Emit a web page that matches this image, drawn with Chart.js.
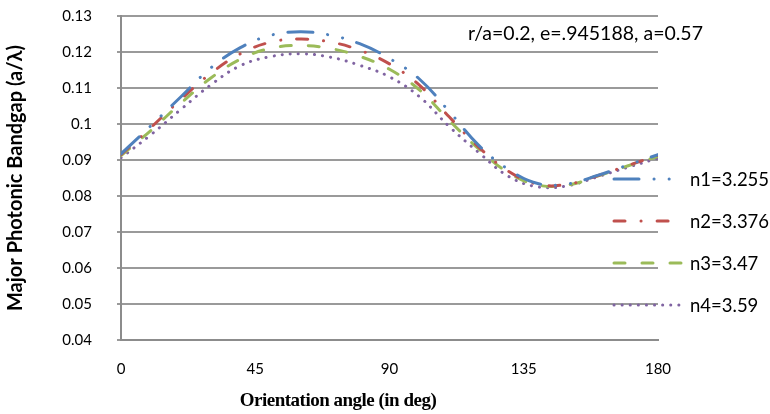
<!DOCTYPE html>
<html>
<head>
<meta charset="utf-8">
<script src="https://cdn.jsdelivr.net/npm/chart.js@4.4.0/dist/chart.umd.min.js"></script>
<style>
  html, body { margin: 0; padding: 0; background: #fff; }
  #wrap { width: 770px; height: 414px; }
</style>
</head>
<body>
<div id="wrap"><canvas id="bandgapChart" width="770" height="414"></canvas></div>
<script>
// orientation angle (deg)
const angles = [0, 10, 20, 30, 40, 50, 60, 70, 80, 90, 100, 110, 120, 130, 140, 150, 160, 170, 180];

// major photonic bandgap (a/lambda) for each refractive index
const n1Values = [0.0917, 0.0995, 0.1075, 0.1155, 0.1212, 0.1246, 0.1256, 0.1247, 0.1223, 0.1182, 0.1125, 0.1035, 0.0940, 0.0873, 0.0834, 0.0834, 0.0858, 0.0886, 0.0915];
const n2Values = [0.0915, 0.0990, 0.1068, 0.1140, 0.1195, 0.1227, 0.1236, 0.1228, 0.1205, 0.1167, 0.1108, 0.1020, 0.0935, 0.0868, 0.0832, 0.0833, 0.0857, 0.0885, 0.0913];
const n3Values = [0.0912, 0.0982, 0.1057, 0.1127, 0.1180, 0.1210, 0.1218, 0.1210, 0.1188, 0.1152, 0.1095, 0.1010, 0.0930, 0.0864, 0.0830, 0.0831, 0.0856, 0.0884, 0.0910];
const n4Values = [0.0906, 0.0970, 0.1040, 0.1108, 0.1162, 0.1187, 0.1195, 0.1186, 0.1163, 0.1131, 0.1076, 0.0993, 0.0920, 0.0854, 0.0825, 0.0829, 0.0854, 0.0880, 0.0905];

const seriesLabels = ['n1=3.255', 'n2=3.376', 'n3=3.47', 'n4=3.59'];
const xTicks = [0, 45, 90, 135, 180];
const yTicks = [0.04, 0.05, 0.06, 0.07, 0.08, 0.09, 0.1, 0.11, 0.12, 0.13];
const noteText = 'r/a=0.2, e=.945188, a=0.57';

const toPoints = vals => angles.map((a, i) => ({ x: a, y: vals[i] }));

// legend on the right, drawn over the plot like the Excel one
const sideLegend = {
  id: 'sideLegend',
  afterDatasetsDraw(chart) {
    const ctx = chart.ctx;
    const area = chart.chartArea;
    chart.data.datasets.forEach((ds, i) => {
      const y = area.top + 163 + i * 42;
      const x0 = area.right - 44;
      ctx.save();
      ctx.strokeStyle = ds.borderColor;
      ctx.lineWidth = ds.borderWidth;
      ctx.lineCap = 'round';
      ctx.setLineDash(ds.borderDash);
      ctx.beginPath();
      ctx.moveTo(x0, y);
      ctx.lineTo(x0 + 70, y);
      ctx.stroke();
      ctx.setLineDash([]);
      ctx.fillStyle = '#000';
      ctx.font = '18.5px Lato';
      ctx.textBaseline = 'middle';
      ctx.fillText(ds.label, x0 + 76, y + 1);
      ctx.restore();
    });
  }
};

// parameter note and x axis title
const extraText = {
  id: 'extraText',
  afterDraw(chart) {
    const ctx = chart.ctx;
    const area = chart.chartArea;
    ctx.save();
    ctx.fillStyle = '#000';
    ctx.textBaseline = 'middle';
    ctx.font = '19.5px Lato';
    ctx.fillText(noteText, area.left + 347, area.top + 18);

    ctx.font = 'bold 19px "Liberation Serif"';
    ctx.letterSpacing = '-0.5px';
    ctx.textAlign = 'center';
    ctx.fillText('Orientation angle (in deg)', area.left + 217, 401);
    ctx.restore();
  }
};

const ctx = document.getElementById('bandgapChart').getContext('2d');
new Chart(ctx, {
  type: 'line',
  data: {
    datasets: [
      {
        label: seriesLabels[0],
        data: toPoints(n1Values),
        borderColor: '#4F81BD',
        borderWidth: 3,
        borderDash: [25, 15, 0.1, 15, 0.1, 15],
        borderCapStyle: 'round'
      },
      {
        label: seriesLabels[1],
        data: toPoints(n2Values),
        borderColor: '#C0504D',
        borderWidth: 3,
        borderDash: [11, 16, 0.1, 16],
        borderCapStyle: 'round'
      },
      {
        label: seriesLabels[2],
        data: toPoints(n3Values),
        borderColor: '#9BBB59',
        borderWidth: 3,
        borderDash: [11, 17],
        borderCapStyle: 'round'
      },
      {
        label: seriesLabels[3],
        data: toPoints(n4Values),
        borderColor: '#8064A2',
        borderWidth: 3,
        borderDash: [0.1, 8],
        borderCapStyle: 'round'
      }
    ]
  },
  options: {
    responsive: false,
    animation: false,
    layout: { padding: { top: 16, right: 112, left: 0, bottom: 0 } },
    elements: {
      point: { radius: 0 },
      line: { tension: 0.4, fill: false }
    },
    plugins: {
      legend: { display: false },
      tooltip: { enabled: false }
    },
    scales: {
      x: {
        type: 'linear',
        min: 0,
        max: 180,
        afterBuildTicks: scale => { scale.ticks = xTicks.map(v => ({ value: v })); },
        afterFit: scale => { scale.height = 74; },
        grid: { display: false, drawTicks: false },
        border: { display: true, color: '#8c8c8c', width: 2 },
        ticks: {
          padding: 20,
          color: '#000',
          font: { family: 'Lato', size: 15 },
          maxRotation: 0
        }
      },
      y: {
        min: 0.04,
        max: 0.13,
        afterBuildTicks: scale => { scale.ticks = yTicks.map(v => ({ value: v })); },
        afterFit: scale => {
          scale.width = 121;
          scale.paddingTop = 0;
          scale.paddingBottom = 0;
        },
        grid: { color: '#9a9a9a', lineWidth: 2, tickLength: 4 },
        border: { display: true, color: '#8c8c8c', width: 2 },
        ticks: {
          padding: 25,
          color: '#000',
          font: { family: 'Lato', size: 15 },
          callback: v => String(parseFloat(v.toFixed(2)))
        },
        title: {
          display: true,
          text: 'Major Photonic Bandgap (a/λ)',
          color: '#000',
          font: { family: 'Lato', size: 20, weight: 'bold' },
          padding: { top: 4, bottom: 0 }
        }
      }
    }
  },
  plugins: [sideLegend, extraText]
});
</script>
</body>
</html>
